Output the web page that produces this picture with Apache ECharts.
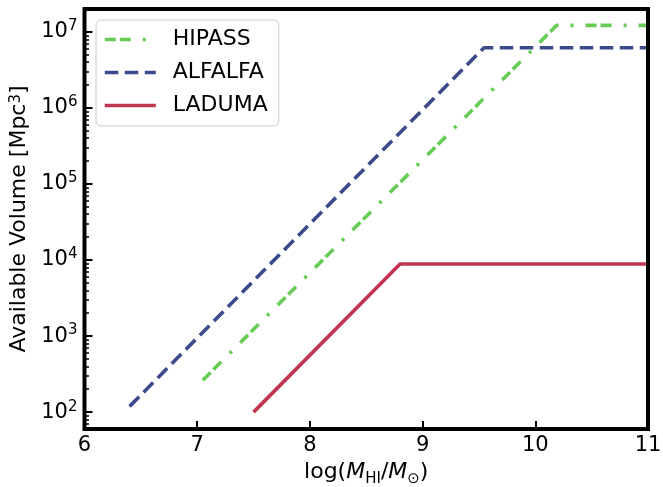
<!DOCTYPE html>
<html><head><meta charset="utf-8">
<script src="https://cdn.jsdelivr.net/npm/echarts@6/dist/echarts.min.js"></script>
<style>html,body{margin:0;padding:0;background:#fff}#c{width:663px;height:487px}</style>
</head><body><div id="c"></div>
<script>
// ---- data ----
const seriesNames = ['HIPASS', 'ALFALFA', 'LADUMA'];
const hipassX = [7.05, 10.19, 11];
const hipassV = [263, 1.22e7, 1.22e7];
const alfalfaX = [6.40, 9.545, 11];
const alfalfaV = [119, 6.2e6, 6.2e6];
const ladumaX = [7.5, 8.8, 11];
const ladumaV = [100, 8870, 8870];
const xTickValues = [6, 7, 8, 9, 10, 11];
const yMajorTicks = [1e2, 1e3, 1e4, 1e5, 1e6, 1e7];
const yMinorMultipliers = [2, 3, 4, 5, 6, 7, 8, 9];
const yMin = 60, yMax = 2e7;

const FONT = 'DejaVu Sans';
const pairs = (xs, vs) => xs.map((x, i) => [x, vs[i]]);
const yMinorTicks = [];
[10, 100, 1e3, 1e4, 1e5, 1e6].forEach(d => yMinorMultipliers.forEach(m => {
  const v = m * d; if (v > yMin && v < yMax) yMinorTicks.push(v);
}));

const colors = {HIPASS: '#66CC55', ALFALFA: '#3B4A8A', LADUMA: '#C13551'};
const dashes = {HIPASS: [11, 4, 11, 12, 3, 12], ALFALFA: [13.5, 6.5], LADUMA: 'solid'};
const dataMap = {HIPASS: pairs(hipassX, hipassV), ALFALFA: pairs(alfalfaX, alfalfaV), LADUMA: pairs(ladumaX, ladumaV)};

const chart = echarts.init(document.getElementById('c'), null, {renderer: 'canvas'});
chart.setOption({
  animation: false,
  backgroundColor: '#fff',
  textStyle: {fontFamily: FONT},
  grid: {left: 84.5, right: 15, top: 9, bottom: 58, show: true, borderColor: '#000', borderWidth: 4, z: 10,
         containLabel: false, outerBoundsMode: 'none'},
  legend: {
    orient: 'vertical', left: 96, top: 20,
    data: seriesNames,
    itemWidth: 51, itemHeight: 25, itemGap: 8,
    padding: [7, 11, 8, 7],
    backgroundColor: 'rgba(255,255,255,0.8)',
    borderColor: '#cccccc', borderWidth: 1, borderRadius: 5,
    itemStyle: {color: 'rgba(0,0,0,0)', borderWidth: 0, opacity: 0},
    lineStyle: {width: 3.6},
    textStyle: {fontFamily: FONT, fontSize: 22, color: '#000', padding: [0, 0, 0, 12], lineHeight: 25},
    z: 20
  },
  xAxis: {
    type: 'value', min: 6, max: 11, interval: 1,
    axisLine: {show: false},
    axisTick: {show: true, inside: true, length: 8, lineStyle: {color: '#000', width: 2}, customValues: xTickValues},
    axisLabel: {fontFamily: FONT, fontSize: 21, color: '#000', margin: 6, customValues: xTickValues},
    splitLine: {show: false},
    name: '{n|log(}{i|M}{sub|HI}{n|/}{i|M}{sub|⊙}{n|)}',
    nameLocation: 'middle', nameGap: 25,
    nameTextStyle: {
      rich: {
        n: {fontFamily: FONT, fontSize: 22, color: '#000', lineHeight: 28},
        i: {fontFamily: FONT, fontSize: 22, fontStyle: 'italic', color: '#000', lineHeight: 28},
        sub: {fontFamily: FONT, fontSize: 15, color: '#000', verticalAlign: 'bottom', lineHeight: 28, padding: [0, 0, -1, 0]}
      }
    },
    z: 11
  },
  yAxis: [{
    type: 'log', logBase: 10, min: yMin, max: yMax,
    axisLine: {show: false},
    axisTick: {show: true, inside: true, length: 8, lineStyle: {color: '#000', width: 2}, customValues: yMajorTicks},
    axisLabel: {
      fontFamily: FONT, fontSize: 21, color: '#000', margin: 7, customValues: yMajorTicks,
      formatter: v => '{b|10}{s|' + Math.round(Math.log10(v)) + '}',
      rich: {
        b: {fontFamily: FONT, fontSize: 21, color: '#000', lineHeight: 26},
        s: {fontFamily: FONT, fontSize: 15, color: '#000', verticalAlign: 'top', lineHeight: 15}
      }
    },
    splitLine: {show: false},
    name: 'Available Volume [Mpc{s|3}]',
    nameLocation: 'middle', nameGap: 39,
    nameTextStyle: {
      fontFamily: FONT, fontSize: 22, color: '#000',
      rich: {s: {fontFamily: FONT, fontSize: 15, color: '#000', verticalAlign: 'top', lineHeight: 15}}
    },
    z: 11
  }, {
    type: 'log', logBase: 10, min: yMin, max: yMax, position: 'left',
    axisLine: {show: false},
    axisTick: {show: true, inside: true, length: 4.5, lineStyle: {color: '#000', width: 1.5}, customValues: yMinorTicks},
    axisLabel: {show: false},
    splitLine: {show: false},
    z: 11
  }],
  series: seriesNames.map(n => ({
    name: n, type: 'line', data: dataMap[n],
    symbol: 'none', showSymbol: false,
    lineStyle: {color: colors[n], width: 3.6, type: dashes[n], cap: 'butt'},
    itemStyle: {color: colors[n]},
    z: 2
  }))
});
</script></body></html>
